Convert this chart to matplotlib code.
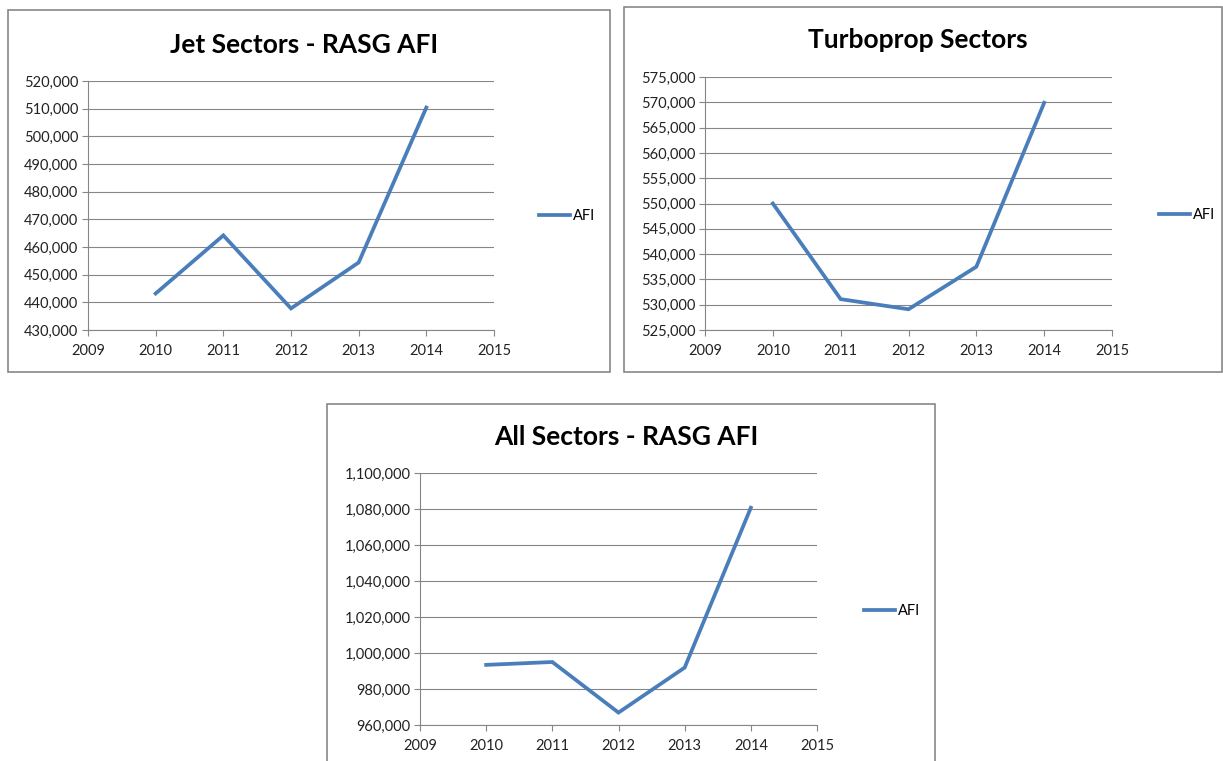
import matplotlib.pyplot as plt
import matplotlib.patches as patches
from matplotlib.ticker import FuncFormatter, MultipleLocator

W, H = 1223, 761

years = [2010, 2011, 2012, 2013, 2014]
jet_afi = [443200, 464200, 437800, 454400, 510400]
turbo_afi = [550000, 531100, 529100, 537500, 569900]
all_afi = [993400, 995000, 966900, 991900, 1080700]

titles = ["Jet Sectors - RASG AFI", "Turboprop Sectors", "All Sectors - RASG AFI"]

line_col = '#4A7EBB'
grid_col = '#868686'
font = ['Lato', 'DejaVu Sans']

fig = plt.figure(figsize=(W / 100, H / 100), dpi=100)
fig.patch.set_facecolor('white')


def px_rect(l, t, r, b):
    return [l / W, 1 - b / H, (r - l) / W, (b - t) / H]


# chart frames: box, plot area, title y, legend pos, y range, step
charts = [
    dict(box=(8, 10, 610, 372), plot=(88, 81, 494, 330), ty=45, leg=(532, 216),
         y=jet_afi, ylim=(430000, 520000), step=10000),
    dict(box=(624, 7, 1222, 372), plot=(705, 77, 1112, 330), ty=40, leg=(1152, 215),
         y=turbo_afi, ylim=(525000, 575000), step=5000),
    dict(box=(327, 404, 935, 775), plot=(420, 473, 817, 725), ty=437, leg=(857, 611),
         y=all_afi, ylim=(960000, 1100000), step=20000),
]

for c, title in zip(charts, titles):
    bl, bt, br, bb = c['box']
    fig.patches.append(patches.Rectangle((bl / W, 1 - bb / H), (br - bl) / W, (bb - bt) / H,
                                         transform=fig.transFigure, fill=False,
                                         edgecolor='#878787', linewidth=1.2))
    ax = fig.add_axes(px_rect(*c['plot']))
    ax.plot(years, c['y'], color=line_col, linewidth=2.7, label='AFI',
            solid_joinstyle='miter')
    ax.set_xlim(2009, 2015)
    ax.set_ylim(*c['ylim'])
    ax.xaxis.set_major_locator(MultipleLocator(1))
    ax.yaxis.set_major_locator(MultipleLocator(c['step']))
    ax.yaxis.set_major_formatter(FuncFormatter(lambda v, p: f"{v:,.0f}"))
    ax.xaxis.set_major_formatter(FuncFormatter(lambda v, p: f"{int(v)}"))
    ax.grid(axis='y', color=grid_col, linewidth=0.8)
    ax.set_axisbelow(True)
    for s in ['top', 'right']:
        ax.spines[s].set_visible(False)
    for s in ['left', 'bottom']:
        ax.spines[s].set_color(grid_col)
        ax.spines[s].set_linewidth(0.8)
    ax.tick_params(axis='both', colors=grid_col, length=4, width=0.8,
                   labelcolor='#222222', labelsize=10.5, pad=3)
    ax.tick_params(axis='x', pad=6)
    for lab in ax.get_xticklabels() + ax.get_yticklabels():
        lab.set_family(font)
    cx = (bl + br) / 2 - 5
    fig.text(cx / W, 1 - c['ty'] / H, title, ha='center', va='center',
             fontsize=19, fontweight='bold', family=font)
    lx, ly = c['leg']
    ax.legend(loc='center left', bbox_to_anchor=(lx / W, 1 - ly / H),
              bbox_transform=fig.transFigure, frameon=False, handlelength=2.1,
              handletextpad=0.2, borderpad=0, prop={'family': font, 'size': 10.5})

plt.savefig('out.png', dpi=100, facecolor='white')
plt.close()
